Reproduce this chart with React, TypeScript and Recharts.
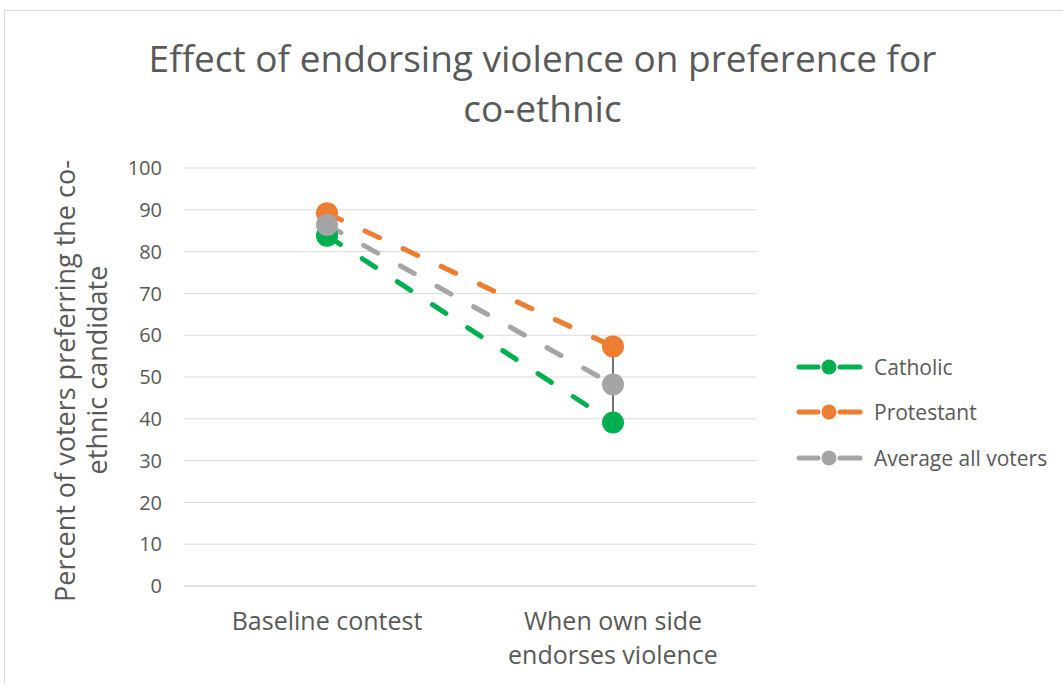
import React from "react";
import { ComposedChart, Line, XAxis, YAxis, CartesianGrid, ReferenceLine } from "recharts";

const categories = ["Baseline contest", "When own side endorses violence"];
const catholic = [83.8, 39.1];
const protestant = [89.2, 57.3];
const average = [86.4, 48.2];
const yTicks = [0, 10, 20, 30, 40, 50, 60, 70, 80, 90, 100];
const categoryLines = [["Baseline contest"], ["When own side", "endorses violence"]];

const data = categories.map((c, i) => ({
  name: c,
  catholic: catholic[i],
  protestant: protestant[i],
  average: average[i],
  low: Math.min(catholic[i], protestant[i], average[i]),
  high: Math.max(catholic[i], protestant[i], average[i]),
}));

const FONT = "'Open Sans', sans-serif";
const TXT = "#595959";

const series = [
  { key: "catholic", name: "Catholic", color: "#00B050" },
  { key: "protestant", name: "Protestant", color: "#ED7D31" },
  { key: "average", name: "Average all voters", color: "#A5A5A5" },
];

const XTick = (props: any) => {
  const { x, y, index } = props;
  const lines = categoryLines[index] || [];
  return (
    <g>
      {lines.map((l, i) => (
        <text key={i} x={x} y={y + 36 + i * 34} textAnchor="middle" fill={TXT} fontSize={25} fontFamily={FONT}>
          {l}
        </text>
      ))}
    </g>
  );
};

const LegendBox = () => (
  <div style={{ position: "absolute", left: 783, top: 333, fontFamily: FONT }}>
    {series.map((s) => (
      <div key={s.key} style={{ display: "flex", alignItems: "center", height: 45.5 }}>
        <svg width={77} height={20}>
          <line x1={11} y1={10} x2={30} y2={10} stroke={s.color} strokeWidth={5} strokeLinecap="round" />
          <line x1={52} y1={10} x2={72} y2={10} stroke={s.color} strokeWidth={5} strokeLinecap="round" />
          <circle cx={41} cy={10} r={7.5} fill={s.color} />
        </svg>
        <span style={{ color: TXT, fontSize: 21, marginLeft: 9, whiteSpace: "nowrap" }}>{s.name}</span>
      </div>
    ))}
  </div>
);

export default function App() {
  return (
    <div style={{ position: "absolute", left: 4, top: 10, width: 1061, height: 680, border: "1px solid #d9d9d9", background: "#fff", fontFamily: FONT }}>
      <div style={{ position: "absolute", left: 0, width: 1075, top: 22, textAlign: "center", fontSize: 37, color: TXT, lineHeight: "50px" }}>
        Effect of endorsing violence on preference for
        <br />
        co-ethnic
      </div>
      <div style={{ position: "absolute", left: 0, top: 0 }}>
        <ComposedChart
          width={1061}
          height={680}
          data={data}
          margin={{ top: 157, right: 310, bottom: 0, left: 120 }}
        >
          <CartesianGrid vertical={false} stroke="#d9d9d9" strokeWidth={1} />
          <XAxis
            dataKey="name"
            axisLine={{ stroke: "#d9d9d9" }}
            tickLine={false}
            height={105}
            tick={<XTick />}
            interval={0}
            padding={{ left: 143, right: 143 }}
          />
          <YAxis
            domain={[0, 100]}
            ticks={yTicks}
            axisLine={false}
            tickLine={false}
            tickSize={0}
            tickMargin={22}
            width={59}
            tick={{ fill: TXT, fontSize: 20, fontFamily: FONT }}
            label={() => (
              <g>
                <text transform="translate(70, 370) rotate(-90)" textAnchor="middle" fill={TXT} fontSize={27} fontFamily={FONT}>
                  Percent of voters preferring the co-
                </text>
                <text transform="translate(102, 359) rotate(-90)" textAnchor="middle" fill={TXT} fontSize={27} fontFamily={FONT}>
                  ethnic candidate
                </text>
              </g>
            )}
          />
          {series.map((s) => (
            <Line
              key={s.key}
              dataKey={s.key}
              name={s.name}
              stroke={s.color}
              strokeWidth={5}
              strokeDasharray="16 26"
              strokeLinecap="round"
              isAnimationActive={false}
              dot={{ r: 11, fill: s.color, stroke: s.color, strokeWidth: 0, strokeDasharray: "0" }}
              activeDot={false}
            />
          ))}
          {data.map((d) => (
            <ReferenceLine
              key={d.name}
              segment={[{ x: d.name, y: d.low }, { x: d.name, y: d.high }]}
              stroke="#404040"
              strokeWidth={1.5}
            />
          ))}
        </ComposedChart>
      </div>
      <LegendBox />
    </div>
  );
}
